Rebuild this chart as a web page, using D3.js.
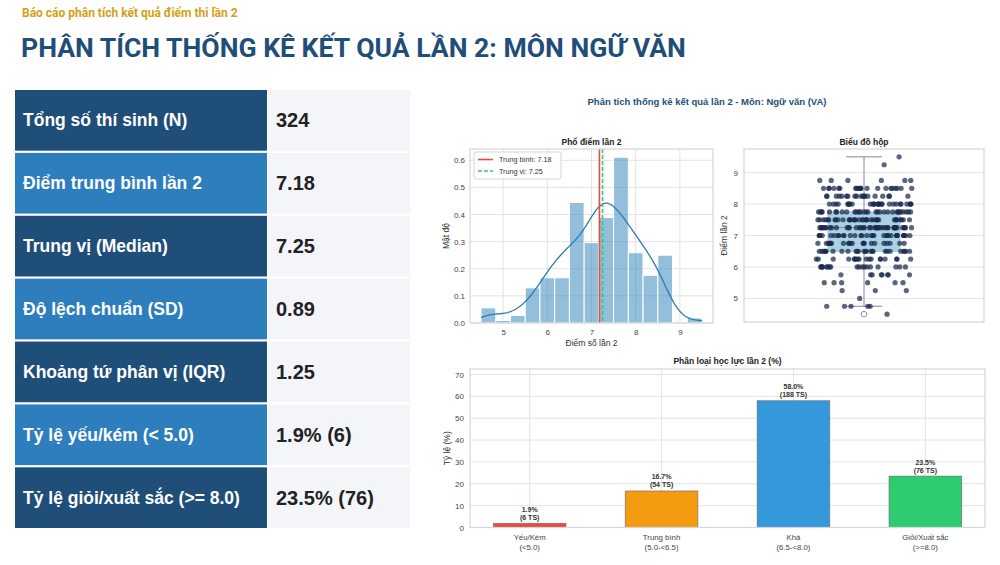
<!DOCTYPE html>
<html>
<head>
<meta charset="utf-8">
<script src="https://cdn.jsdelivr.net/npm/d3@7"></script>
<style>
  body { margin: 0; background: #fff; }
  svg text { font-family: "Liberation Sans", Arial, sans-serif; }
  svg text.head { font-family: Roboto, "Liberation Sans", Arial, sans-serif; }
</style>
</head>
<body>
<div id="page"></div>
<script>
// ---- data ----
const statLabels = ['Tổng số thí sinh (N)', 'Điểm trung bình lần 2', 'Trung vị (Median)',
  'Độ lệch chuẩn (SD)', 'Khoảng tứ phân vị (IQR)', 'Tỷ lệ yếu/kém (< 5.0)', 'Tỷ lệ giỏi/xuất sắc (>= 8.0)'];
const statValues = ['324', '7.18', '7.25', '0.89', '1.25', '1.9% (6)', '23.5% (76)'];

// score distribution (each score value and how many candidates got it)
const scoreValues = [4.5, 4.75, 5, 5.25, 5.5, 5.75, 6, 6.25, 6.5, 6.75, 7, 7.25, 7.5, 7.75, 8, 8.25, 8.5, 8.75, 9.25, 9.5];
const scoreCounts = [1, 5, 1, 3, 6, 8, 18, 18, 26, 22, 32, 42, 36, 30, 28, 19, 21, 6, 1, 1];
const meanScore = 7.18;
const medianScore = 7.25;
const boxStats = { q1: 6.5, median: 7.25, q3: 7.75, lo: 4.75, hi: 9.5, outliers: [4.5] };

const histXTicks = [5, 6, 7, 8, 9];
const histYTicks = [0, 0.1, 0.2, 0.3, 0.4, 0.5, 0.6];
const boxYTicks = [5, 6, 7, 8, 9];

const rankNames = ['Yếu/Kém', 'Trung bình', 'Khá', 'Giỏi/Xuất sắc'];
const rankRanges = ['(<5.0)', '(5.0-<6.5)', '(6.5-<8.0)', '(>=8.0)'];
const rankPercents = [1.9, 16.7, 58.0, 23.5];
const rankCounts = [6, 54, 188, 76];
const rankColors = ['#e74c3c', '#f39c12', '#3498db', '#2ecc71'];
const barYTicks = [0, 10, 20, 30, 40, 50, 60, 70];

// ---- page ----
const W = 1000, H = 565;
const svg = d3.select('#page').append('svg').attr('width', W).attr('height', H);

svg.append('text').attr('class', 'head').attr('x', 22).attr('y', 17)
  .attr('fill', '#d4a017').attr('font-size', 12).attr('font-weight', 'bold')
  .text('Báo cáo phân tích kết quả điểm thi lần 2');
svg.append('text').attr('class', 'head').attr('x', 21).attr('y', 57)
  .attr('fill', '#1f4e79').attr('font-size', 26.6).attr('font-weight', 'bold')
  .text('PHÂN TÍCH THỐNG KÊ KẾT QUẢ LẦN 2: MÔN NGỮ VĂN');

// ---- stats table ----
const rowY = d3.scaleBand().domain(d3.range(statLabels.length)).range([90, 528]).paddingInner(0.035);
const table = svg.append('g');
statLabels.forEach((lab, i) => {
  const y = rowY(i), h = rowY.bandwidth();
  table.append('rect').attr('x', 15).attr('y', y).attr('width', 252).attr('height', h)
    .attr('fill', i % 2 === 0 ? '#1f4e79' : '#2e7dbd');
  table.append('rect').attr('x', 268).attr('y', y).attr('width', 142).attr('height', h)
    .attr('fill', '#f3f5f9');
  table.append('text').attr('x', 23).attr('y', y + h / 2 + 6)
    .attr('fill', '#fff').attr('font-size', 17.5).attr('font-weight', 'bold').text(lab);
  table.append('text').attr('x', 276).attr('y', y + h / 2 + 7)
    .attr('fill', '#222').attr('font-size', 20).attr('font-weight', 'bold').text(statValues[i]);
});

svg.append('text').attr('x', 707).attr('y', 105).attr('text-anchor', 'middle')
  .attr('fill', '#1f4e79').attr('font-size', 9.5).attr('font-weight', 'bold')
  .text('Phân tích thống kê kết quả lần 2 - Môn: Ngữ văn (VA)');

const gridColor = '#e3e3e3';
const tickColor = '#444';

// expand the score distribution into individual scores
const scores = [];
scoreValues.forEach((v, i) => { for (let k = 0; k < scoreCounts[i]; k++) scores.push(v); });

function frame(g, x0, y0, x1, y1) {
  g.append('rect').attr('x', x0).attr('y', y0).attr('width', x1 - x0).attr('height', y1 - y0)
    .attr('fill', 'none').attr('stroke', '#d6d6d6').attr('stroke-width', 1.2);
}

// ---- histogram ----
{
  const x0 = 470, x1 = 713, y0 = 149, y1 = 323;
  const x = d3.scaleLinear().domain([4.25, 9.75]).range([x0, x1]);
  const y = d3.scaleLinear().domain([0, 0.6416]).range([y1, y0]);
  const g = svg.append('g');
  const n = scores.length;
  const width = 5 / 15;
  const bins = d3.bin().domain([4.5, 9.5])
    .thresholds(d3.range(1, 15).map(i => 4.5 + i * 5 / 15))(scores);

  g.append('g').selectAll('line').data(histXTicks).join('line')
    .attr('x1', d => x(d)).attr('x2', d => x(d)).attr('y1', y0).attr('y2', y1)
    .attr('stroke', gridColor);
  g.append('g').selectAll('line').data(histYTicks).join('line')
    .attr('x1', x0).attr('x2', x1).attr('y1', d => y(d)).attr('y2', d => y(d))
    .attr('stroke', gridColor);

  g.append('g').selectAll('rect').data(bins).join('rect')
    .attr('x', d => x(d.x0)).attr('width', d => x(d.x1) - x(d.x0))
    .attr('y', d => y(d.length / n / width)).attr('height', d => y1 - y(d.length / n / width))
    .attr('fill', '#2980b9').attr('fill-opacity', 0.5)
    .attr('stroke', '#fff').attr('stroke-width', 1);

  // gaussian kde, Scott bandwidth
  const sd = d3.deviation(scores);
  const bw = sd * Math.pow(n, -1 / 5);
  const grid = d3.range(0, 201).map(i => 4.5 + i * 5 / 200);
  const kde = grid.map(t => [t, d3.sum(scores, s => Math.exp(-0.5 * ((t - s) / bw) ** 2)) / (n * bw * Math.sqrt(2 * Math.PI))]);
  g.append('path').datum(kde)
    .attr('d', d3.line().x(d => x(d[0])).y(d => y(d[1])))
    .attr('fill', 'none').attr('stroke', '#2f7bb0').attr('stroke-width', 1.3);

  g.append('line').attr('x1', x(meanScore)).attr('x2', x(meanScore)).attr('y1', y0).attr('y2', y1)
    .attr('stroke', '#e74c3c').attr('stroke-width', 1.6);
  g.append('line').attr('x1', x(medianScore)).attr('x2', x(medianScore)).attr('y1', y0).attr('y2', y1)
    .attr('stroke', '#2ecc71').attr('stroke-width', 1.6).attr('stroke-dasharray', '4,2');

  frame(g, x0, y0, x1, y1);

  g.append('g').attr('transform', `translate(0,${y1})`)
    .call(d3.axisBottom(x).tickValues(histXTicks).tickSize(0).tickPadding(6).tickFormat(d3.format('d')))
    .call(a => a.select('.domain').remove())
    .call(a => a.selectAll('text').attr('font-size', 8).attr('fill', tickColor));
  g.append('g').attr('transform', `translate(${x0},0)`)
    .call(d3.axisLeft(y).tickValues(histYTicks).tickSize(0).tickPadding(5).tickFormat(d3.format('.1f')))
    .call(a => a.select('.domain').remove())
    .call(a => a.selectAll('text').attr('font-size', 8).attr('fill', tickColor));

  g.append('text').attr('x', (x0 + x1) / 2).attr('y', 145).attr('text-anchor', 'middle')
    .attr('font-size', 8.5).attr('font-weight', 'bold').attr('fill', '#222').text('Phổ điểm lần 2');
  g.append('text').attr('x', (x0 + x1) / 2).attr('y', 346).attr('text-anchor', 'middle')
    .attr('font-size', 8.5).attr('fill', '#333').text('Điểm số lần 2');
  g.append('text').attr('transform', `translate(449,${(y0 + y1) / 2}) rotate(-90)`).attr('text-anchor', 'middle')
    .attr('font-size', 8.5).attr('fill', '#333').text('Mật độ');

  const leg = g.append('g').attr('transform', 'translate(474,152)');
  leg.append('rect').attr('width', 87).attr('height', 27).attr('rx', 2)
    .attr('fill', '#fff').attr('fill-opacity', 0.85).attr('stroke', '#d6d6d6');
  leg.append('line').attr('x1', 4).attr('x2', 19).attr('y1', 7.5).attr('y2', 7.5)
    .attr('stroke', '#e74c3c').attr('stroke-width', 1.6);
  leg.append('line').attr('x1', 4).attr('x2', 19).attr('y1', 19).attr('y2', 19)
    .attr('stroke', '#2ecc71').attr('stroke-width', 1.6).attr('stroke-dasharray', '4,2');
  leg.append('text').attr('x', 25).attr('y', 10).attr('font-size', 7.2).attr('fill', '#333')
    .text('Trung bình: ' + meanScore.toFixed(2));
  leg.append('text').attr('x', 25).attr('y', 21.5).attr('font-size', 7.2).attr('fill', '#333')
    .text('Trung vị: ' + medianScore.toFixed(2));
}

// ---- box plot with strip ----
{
  const x0 = 744, x1 = 984, y0 = 149, y1 = 322;
  const x = d3.scaleLinear().domain([-0.5, 0.5]).range([x0, x1]);
  const y = d3.scaleLinear().domain([4.25, 9.75]).range([y1, y0]);
  const g = svg.append('g');

  g.append('g').selectAll('line').data(boxYTicks).join('line')
    .attr('x1', x0).attr('x2', x1).attr('y1', d => y(d)).attr('y2', d => y(d))
    .attr('stroke', gridColor);

  const bw = 0.3;
  g.append('line').attr('x1', x(0)).attr('x2', x(0)).attr('y1', y(boxStats.hi)).attr('y2', y(boxStats.q3))
    .attr('stroke', '#888').attr('stroke-width', 1);
  g.append('line').attr('x1', x(0)).attr('x2', x(0)).attr('y1', y(boxStats.q1)).attr('y2', y(boxStats.lo))
    .attr('stroke', '#888').attr('stroke-width', 1);
  [boxStats.hi, boxStats.lo].forEach(v => {
    g.append('line').attr('x1', x(-bw / 4)).attr('x2', x(bw / 4)).attr('y1', y(v)).attr('y2', y(v))
      .attr('stroke', '#888').attr('stroke-width', 1);
  });
  g.append('rect').attr('x', x(-bw / 2)).attr('width', x(bw / 2) - x(-bw / 2))
    .attr('y', y(boxStats.q3)).attr('height', y(boxStats.q1) - y(boxStats.q3))
    .attr('fill', '#a9d3e4').attr('stroke', '#9bbccc').attr('stroke-width', 0.8);
  g.append('line').attr('x1', x(-bw / 2)).attr('x2', x(bw / 2)).attr('y1', y(boxStats.median)).attr('y2', y(boxStats.median))
    .attr('stroke', '#888').attr('stroke-width', 1);
  g.selectAll('.outlier').data(boxStats.outliers).join('circle').attr('class', 'outlier')
    .attr('cx', x(0)).attr('cy', d => y(d)).attr('r', 2.8)
    .attr('fill', '#fff').attr('stroke', '#777').attr('stroke-width', 0.8);

  // strip points: fixed hash-based spread within +-0.2 around the centre
  const spread = (j, k) => {
    const s = Math.sin((j + 1) * 12.9898 + (k + 1) * 78.233) * 43758.5453;
    return s - Math.floor(s);
  };
  const pts = [];
  scoreValues.forEach((v, j) => {
    for (let k = 0; k < scoreCounts[j]; k++) pts.push({ v, off: (spread(j, k) - 0.5) * 0.4 });
  });
  g.append('g').selectAll('circle').data(pts).join('circle')
    .attr('cx', d => x(d.off)).attr('cy', d => y(d.v)).attr('r', 2.6)
    .attr('fill', '#1b2a4e').attr('fill-opacity', 0.72);

  frame(g, x0, y0, x1, y1);

  g.append('g').attr('transform', `translate(${x0},0)`)
    .call(d3.axisLeft(y).tickValues(boxYTicks).tickSize(0).tickPadding(6).tickFormat(d3.format('d')))
    .call(a => a.select('.domain').remove())
    .call(a => a.selectAll('text').attr('font-size', 8).attr('fill', tickColor));

  g.append('text').attr('x', (x0 + x1) / 2).attr('y', 145).attr('text-anchor', 'middle')
    .attr('font-size', 8.5).attr('font-weight', 'bold').attr('fill', '#222').text('Biểu đồ hộp');
  g.append('text').attr('transform', `translate(727,${(y0 + y1) / 2}) rotate(-90)`).attr('text-anchor', 'middle')
    .attr('font-size', 8.5).attr('fill', '#333').text('Điểm lần 2');
}

// ---- rank bar chart ----
{
  const x0 = 470, x1 = 985, y0 = 369, y1 = 527.5;
  const x = d3.scaleLinear().domain([-0.4525, 3.4525]).range([x0, x1]);
  const y = d3.scaleLinear().domain([0, 72.5]).range([y1, y0]);
  const g = svg.append('g');
  const bw = 0.55;

  g.append('g').selectAll('line').data(rankNames).join('line')
    .attr('x1', (d, i) => x(i)).attr('x2', (d, i) => x(i)).attr('y1', y0).attr('y2', y1)
    .attr('stroke', gridColor);
  g.append('g').selectAll('line').data(barYTicks).join('line')
    .attr('x1', x0).attr('x2', x1).attr('y1', d => y(d)).attr('y2', d => y(d))
    .attr('stroke', gridColor);

  g.append('g').selectAll('rect').data(rankPercents).join('rect')
    .attr('x', (d, i) => x(i - bw / 2)).attr('width', x(bw) - x(0))
    .attr('y', d => y(d)).attr('height', d => y1 - y(d))
    .attr('fill', (d, i) => rankColors[i]).attr('stroke', '#5a5a5a').attr('stroke-opacity', 0.6)
    .attr('stroke-width', 0.9);

  const lab = g.append('g').selectAll('text').data(rankPercents).join('text')
    .attr('text-anchor', 'middle').attr('font-size', 7).attr('font-weight', 'bold').attr('fill', '#333');
  lab.append('tspan').attr('x', (d, i) => x(i)).attr('y', d => y(d) - 11.5).text(d => d.toFixed(1) + '%');
  lab.append('tspan').attr('x', (d, i) => x(i)).attr('y', d => y(d) - 3.5).text((d, i) => `(${rankCounts[i]} TS)`);

  frame(g, x0, y0, x1, y1);

  g.append('g').attr('transform', `translate(${x0},0)`)
    .call(d3.axisLeft(y).tickValues(barYTicks).tickSize(0).tickPadding(6))
    .call(a => a.select('.domain').remove())
    .call(a => a.selectAll('text').attr('font-size', 8).attr('fill', tickColor));

  const xl = g.append('g').selectAll('text').data(rankNames).join('text')
    .attr('text-anchor', 'middle').attr('font-size', 7.8).attr('fill', tickColor);
  xl.append('tspan').attr('x', (d, i) => x(i)).attr('y', 540).text(d => d);
  xl.append('tspan').attr('x', (d, i) => x(i)).attr('y', 550).text((d, i) => rankRanges[i]);

  g.append('text').attr('x', (x0 + x1) / 2).attr('y', 364).attr('text-anchor', 'middle')
    .attr('font-size', 8.5).attr('font-weight', 'bold').attr('fill', '#222').text('Phân loại học lực lần 2 (%)');
  g.append('text').attr('transform', `translate(450,${(y0 + y1) / 2}) rotate(-90)`).attr('text-anchor', 'middle')
    .attr('font-size', 8.5).attr('fill', '#333').text('Tỷ lệ (%)');
}
</script>
</body>
</html>
